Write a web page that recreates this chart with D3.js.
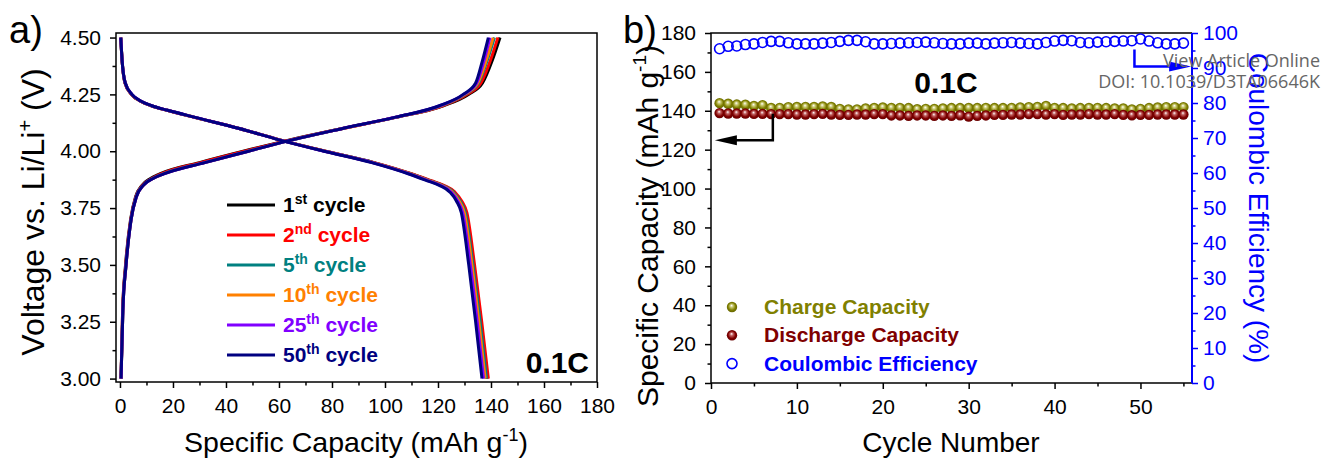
<!DOCTYPE html>
<html>
<head>
<meta charset="utf-8">
<script src="https://cdnjs.cloudflare.com/ajax/libs/d3/7.8.5/d3.min.js"></script>
<style>
  body { margin: 0; background: #fff; }
  svg { display: block; font-family: Arial, "Liberation Sans", sans-serif; }
</style>
</head>
<body>
<svg id="chart" width="1322" height="459"></svg>
<script>
// ---- panel a) voltage profiles ----
var chargeV = [3.00, 3.30, 3.50, 3.70, 3.80, 3.85, 3.88, 3.90, 3.95, 4.00, 4.05, 4.10, 4.15, 4.20, 4.25, 4.30, 4.40, 4.50];
var charge1st  = [0.4, 1.0, 2.1, 4.0, 5.9, 8.3, 11.5, 15.0, 30.0, 46.5, 64.0, 84.0, 104.5, 122.0, 131.5, 136.8, 140.5, 143.4];
var charge2nd  = [0.4, 1.0, 2.2, 4.1, 6.0, 8.5, 12.0, 15.5, 30.5, 47.0, 64.5, 84.0, 104.5, 121.8, 131.0, 136.2, 139.8, 142.6];
var charge5th  = [0.4, 1.1, 2.3, 4.2, 6.1, 8.7, 12.3, 16.2, 31.8, 48.3, 65.0, 84.0, 104.3, 121.2, 130.3, 135.3, 138.6, 141.3];
var charge10th = [0.4, 1.1, 2.3, 4.2, 6.2, 8.8, 12.5, 16.4, 32.0, 48.5, 65.0, 84.0, 104.2, 121.0, 130.0, 135.0, 138.2, 140.8];
var charge25th = [0.4, 1.1, 2.3, 4.2, 6.2, 8.8, 12.5, 16.5, 32.0, 48.5, 65.0, 84.0, 104.0, 120.7, 129.7, 134.6, 137.4, 139.6];
var charge50th = [0.4, 1.1, 2.3, 4.2, 6.2, 8.8, 12.5, 16.5, 32.0, 48.5, 65.0, 84.0, 104.0, 120.5, 129.5, 134.2, 136.8, 139.0];

var dischargeV = [4.50, 4.40, 4.30, 4.25, 4.22, 4.20, 4.18, 4.15, 4.10, 4.05, 4.00, 3.95, 3.90, 3.87, 3.85, 3.82, 3.78, 3.73, 3.50, 3.25, 3.00];
var discharge1st  = [0.3, 0.8, 1.9, 4.3, 7.8, 11.8, 17.8, 27.8, 45.0, 60.3, 77.5, 95.8, 110.0, 117.2, 121.8, 126.0, 128.6, 130.5, 133.4, 136.1, 138.6];
var discharge2nd  = [0.3, 0.8, 1.9, 4.3, 7.8, 11.8, 17.8, 27.8, 45.0, 60.4, 77.6, 96.0, 110.3, 117.5, 122.2, 126.4, 129.0, 130.9, 133.8, 136.5, 139.0];
var discharge5th  = [0.3, 0.8, 2.0, 4.4, 7.9, 11.9, 17.9, 27.9, 45.0, 60.3, 77.4, 95.6, 109.8, 117.0, 121.6, 125.8, 128.4, 130.3, 133.2, 135.9, 138.3];
var discharge10th = [0.3, 0.8, 2.0, 4.4, 7.9, 11.9, 17.9, 27.9, 45.0, 60.2, 77.3, 95.4, 109.6, 116.7, 121.3, 125.4, 128.0, 129.9, 132.8, 135.4, 137.8];
var discharge25th = [0.3, 0.8, 2.0, 4.5, 8.0, 12.0, 18.0, 28.0, 45.0, 60.1, 77.1, 95.2, 109.3, 116.3, 120.9, 125.0, 127.5, 129.3, 132.2, 134.8, 137.2];
var discharge50th = [0.3, 0.8, 2.0, 4.5, 8.0, 12.0, 18.0, 28.0, 45.0, 60.0, 77.0, 95.0, 109.0, 116.0, 120.5, 124.5, 127.0, 128.8, 131.6, 134.2, 136.6];

var cycleNum = ["1", "2", "5", "10", "25", "50"];
var cycleSuffix = ["st", "nd", "th", "th", "th", "th"];
var cycleColors = ["#000000", "#ff0000", "#008080", "#ff8000", "#8000ff", "#000080"];

// ---- panel b) cycling ----
var cycles = [1,2,3,4,5,6,7,8,9,10,11,12,13,14,15,16,17,18,19,20,21,22,23,24,25,26,27,28,29,30,
  31,32,33,34,35,36,37,38,39,40,41,42,43,44,45,46,47,48,49,50,51,52,53,54,55];
var chargeCap = [143.9,143.6,143.2,143.1,142.5,142.9,141.5,141.5,141.9,142.0,142.0,142.0,142.2,142.0,141.0,140.7,140.7,141.2,141.5,141.7,
  141.5,141.5,141.4,140.8,141.0,141.0,141.2,141.4,141.4,141.5,141.4,141.5,141.4,141.4,141.5,141.7,141.9,142.0,142.5,141.5,
  141.4,141.2,141.4,141.5,141.5,141.4,141.2,141.2,140.7,141.0,141.4,141.7,141.9,141.9,141.9];
var dischargeCap = [138.8,138.6,138.6,138.6,138.4,138.4,138.3,138.3,138.3,138.1,138.1,138.3,138.4,138.1,137.9,137.9,138.1,138.1,138.3,138.3,
  137.6,137.6,137.4,137.6,137.6,137.4,137.6,137.4,137.7,137.0,137.4,137.6,137.9,137.9,138.1,138.1,138.3,138.3,138.1,138.3,
  137.9,138.1,138.1,138.3,138.1,138.1,138.3,137.9,137.7,137.9,137.9,138.1,138.1,138.1,138.1];
var coulombicEff = [95.5,96.2,96.3,96.7,96.9,97.3,97.6,97.6,97.2,96.9,96.9,96.9,97.1,97.3,97.6,97.9,97.9,97.5,96.9,96.9,
  97.0,97.1,97.2,97.3,97.4,97.2,97.0,96.9,96.9,97.1,97.1,96.9,97.1,97.2,97.3,97.1,97.0,96.9,97.3,97.7,
  97.9,97.8,97.3,97.2,97.4,97.5,97.6,97.7,97.8,98.3,97.7,97.2,96.9,96.9,97.1];
var legendB = ["Charge Capacity", "Discharge Capacity", "Coulombic Efficiency"];

var svg = d3.select("#chart");
var defs = svg.append("defs");
function sphere(id, light, base, dark) {
  var g = defs.append("radialGradient").attr("id", id)
    .attr("cx", "50%").attr("cy", "50%").attr("r", "55%").attr("fx", "45%").attr("fy", "35%");
  g.append("stop").attr("offset", "0%").attr("stop-color", "#ffffff");
  g.append("stop").attr("offset", "28%").attr("stop-color", light);
  g.append("stop").attr("offset", "65%").attr("stop-color", base);
  g.append("stop").attr("offset", "100%").attr("stop-color", dark);
}
sphere("gOlive", "#c8c870", "#808000", "#606000");
sphere("gRed", "#c06060", "#800000", "#600000");

function styleAxis(g, size, color) {
  g.select(".domain").remove();
  g.selectAll(".tick line").attr("stroke", color).attr("stroke-width", 1.5);
  g.selectAll(".tick text").attr("fill", color).style("font-size", size + "px")
    .style("font-family", "Arial, 'Liberation Sans', sans-serif");
}

// ================= panel a =================
var xA = d3.scaleLinear().domain([-1.5, 180]).range([116, 597]);
var yA = d3.scaleLinear().domain([2.985, 4.52]).range([382, 33]);

var ga = svg.append("g");
ga.append("g").attr("transform", "translate(0,382)")
  .call(d3.axisBottom(xA).tickValues(d3.range(0, 181, 20)).tickSize(6).tickPadding(10))
  .call(styleAxis, 21, "#000");
ga.append("g").attr("transform", "translate(0,382)")
  .call(d3.axisBottom(xA).tickValues(d3.range(10, 180, 20)).tickSize(3.5).tickFormat(""))
  .call(styleAxis, 21, "#000");
ga.append("g").attr("transform", "translate(116,0)")
  .call(d3.axisLeft(yA).tickValues([3.00, 3.25, 3.50, 3.75, 4.00, 4.25, 4.50]).tickFormat(d3.format(".2f")).tickSize(6).tickPadding(9))
  .call(styleAxis, 21, "#000");
ga.append("g").attr("transform", "translate(116,0)")
  .call(d3.axisLeft(yA).tickValues([3.125, 3.375, 3.625, 3.875, 4.125, 4.375]).tickSize(3.5).tickFormat(""))
  .call(styleAxis, 21, "#000");

var lineA = d3.line().x(function(d) { return xA(d[0]); }).y(function(d) { return yA(d[1]); })
  .curve(d3.curveMonotoneX);
var chargeSets = [charge1st, charge2nd, charge5th, charge10th, charge25th, charge50th];
var dischargeSets = [discharge1st, discharge2nd, discharge5th, discharge10th, discharge25th, discharge50th];
chargeSets.forEach(function(caps, i) {
  var pts = caps.map(function(c, k) { return [c, chargeV[k]]; });
  var pts2 = dischargeSets[i].map(function(c, k) { return [c, dischargeV[k]]; });
  ga.append("path").attr("d", lineA(pts2)).attr("fill", "none")
    .attr("stroke", cycleColors[i]).attr("stroke-width", 3);
  ga.append("path").attr("d", lineA(pts)).attr("fill", "none")
    .attr("stroke", cycleColors[i]).attr("stroke-width", 3);
});

ga.append("rect").attr("x", 116).attr("y", 33).attr("width", 481).attr("height", 349)
  .attr("fill", "none").attr("stroke", "#000").attr("stroke-width", 1.5);

// legend a
cycleNum.forEach(function(n, i) {
  var y = 205 + i * 30;
  ga.append("line").attr("x1", 227).attr("x2", 275).attr("y1", y).attr("y2", y)
    .attr("stroke", cycleColors[i]).attr("stroke-width", 3);
  var t = ga.append("text").attr("x", 283).attr("y", y + 7).attr("fill", cycleColors[i])
    .style("font-size", "21px").style("font-weight", "bold");
  t.append("tspan").text(n);
  t.append("tspan").attr("dy", -8).style("font-size", "14px").text(cycleSuffix[i]);
  t.append("tspan").attr("dy", 8).text(" cycle");
});
ga.append("text").attr("x", 589).attr("y", 373).attr("text-anchor", "end")
  .style("font-size", "30px").style("font-weight", "bold").text("0.1C");

// labels a
ga.append("text").attr("x", 9).attr("y", 43).style("font-size", "38px").text("a)");
var ylA = ga.append("text").attr("transform", "translate(44,212) rotate(-90)")
  .attr("text-anchor", "middle").style("font-size", "32px");
ylA.append("tspan").text("Voltage vs. Li/Li");
ylA.append("tspan").attr("dy", -12).style("font-size", "20px").text("+");
ylA.append("tspan").attr("dy", 12).text(" (V)");
var xlA = ga.append("text").attr("x", 356).attr("y", 452).attr("text-anchor", "middle")
  .style("font-size", "28.5px");
xlA.append("tspan").text("Specific Capacity (mAh g");
xlA.append("tspan").attr("dy", -11).style("font-size", "18px").text("-1");
xlA.append("tspan").attr("dy", 11).text(")");

// ================= panel b =================
var xB = d3.scaleLinear().domain([0, 56]).range([711, 1192]);
var yB = d3.scaleLinear().domain([0, 180]).range([383, 33]);
var yCE = d3.scaleLinear().domain([0, 100]).range([383, 33]);

var gb = svg.append("g");
gb.append("g").attr("transform", "translate(0,383)")
  .call(d3.axisBottom(xB).tickValues(d3.range(0, 51, 10)).tickSize(6).tickPadding(10))
  .call(styleAxis, 21, "#000");
gb.append("g").attr("transform", "translate(0,383)")
  .call(d3.axisBottom(xB).tickValues(d3.range(5, 56, 10)).tickSize(3.5).tickFormat(""))
  .call(styleAxis, 21, "#000");
gb.append("g").attr("transform", "translate(711,0)")
  .call(d3.axisLeft(yB).tickValues(d3.range(0, 181, 20)).tickSize(6).tickPadding(9))
  .call(styleAxis, 21, "#000");
gb.append("g").attr("transform", "translate(711,0)")
  .call(d3.axisLeft(yB).tickValues(d3.range(10, 180, 20)).tickSize(3.5).tickFormat(""))
  .call(styleAxis, 21, "#000");
gb.append("g").attr("transform", "translate(1192,0)")
  .call(d3.axisRight(yCE).tickValues(d3.range(0, 101, 10)).tickSize(6).tickPadding(5))
  .call(styleAxis, 21, "#0000ff");
gb.append("g").attr("transform", "translate(1192,0)")
  .call(d3.axisRight(yCE).tickValues(d3.range(5, 100, 10)).tickSize(3.5).tickFormat(""))
  .call(styleAxis, 21, "#0000ff");

// frame
gb.append("path").attr("d", "M1192,33H711V383H1192")
  .attr("fill", "none").attr("stroke", "#000").attr("stroke-width", 1.5);
gb.append("line").attr("x1", 1192).attr("x2", 1192).attr("y1", 33).attr("y2", 383)
  .attr("stroke", "#0000ff").attr("stroke-width", 2);

// markers
gb.selectAll("circle.ce").data(cycles).enter().append("circle").attr("class", "ce")
  .attr("cx", function(d) { return xB(d); })
  .attr("cy", function(d, i) { return yCE(coulombicEff[i]); })
  .attr("r", 5).attr("fill", "none").attr("stroke", "#0000ff").attr("stroke-width", 1.6);
gb.selectAll("circle.ch").data(cycles).enter().append("circle").attr("class", "ch")
  .attr("cx", function(d) { return xB(d); })
  .attr("cy", function(d, i) { return yB(chargeCap[i]); })
  .attr("r", 5.2).attr("fill", "url(#gOlive)");
gb.selectAll("circle.dc").data(cycles).enter().append("circle").attr("class", "dc")
  .attr("cx", function(d) { return xB(d); })
  .attr("cy", function(d, i) { return yB(dischargeCap[i]); })
  .attr("r", 5.2).attr("fill", "url(#gRed)");

// arrows
var ax = xB(7.2), ay1 = yB(138.5), ay2 = yB(124.8), tipL = xB(0.45);
gb.append("path").attr("d", "M" + ax + "," + ay1 + "V" + ay2 + "H" + (tipL + 18))
  .attr("fill", "none").attr("stroke", "#000").attr("stroke-width", 2.5);
gb.append("path").attr("d", "M" + tipL + "," + ay2 + "L" + (tipL + 22) + "," + (ay2 - 5) + "L" + (tipL + 22) + "," + (ay2 + 5) + "Z")
  .attr("fill", "#000");
var bx = xB(49.3), by1 = yCE(95.3), by2 = yCE(90.4), tipR = xB(55.9);
gb.append("path").attr("d", "M" + bx + "," + by1 + "V" + by2 + "H" + (tipR - 18))
  .attr("fill", "none").attr("stroke", "#0000ff").attr("stroke-width", 2.5);
gb.append("path").attr("d", "M" + tipR + "," + by2 + "L" + (tipR - 22) + "," + (by2 - 5) + "L" + (tipR - 22) + "," + (by2 + 5) + "Z")
  .attr("fill", "#0000ff");

gb.append("text").attr("x", 946).attr("y", 93).attr("text-anchor", "middle")
  .style("font-size", "30px").style("font-weight", "bold").text("0.1C");

// legend b
var legColors = ["#808000", "#800000", "#0000ff"];
legendB.forEach(function(name, i) {
  var y = 307 + i * 28.3;
  if (i < 2) {
    gb.append("circle").attr("cx", 732).attr("cy", y).attr("r", 5.2)
      .attr("fill", i === 0 ? "url(#gOlive)" : "url(#gRed)");
  } else {
    gb.append("circle").attr("cx", 732).attr("cy", y).attr("r", 5)
      .attr("fill", "none").attr("stroke", "#0000ff").attr("stroke-width", 1.6);
  }
  gb.append("text").attr("x", 764).attr("y", y + 7).attr("fill", legColors[i])
    .style("font-size", "21px").style("font-weight", "bold").text(name);
});

// labels b
gb.append("text").attr("x", 623).attr("y", 43).style("font-size", "38px").text("b)");
var ylB = gb.append("text").attr("transform", "translate(658,226) rotate(-90)")
  .attr("text-anchor", "middle").style("font-size", "30px");
ylB.append("tspan").text("Specific Capacity (mAh g");
ylB.append("tspan").attr("dy", -12).style("font-size", "19px").text("-1");
ylB.append("tspan").attr("dy", 12).text(")");
gb.append("text").attr("x", 951).attr("y", 452).attr("text-anchor", "middle")
  .style("font-size", "28px").text("Cycle Number");
gb.append("text").attr("transform", "translate(1249,208) rotate(90)")
  .attr("text-anchor", "middle").attr("fill", "#0000ff").style("font-size", "28px")
  .text("Coulombic Efficiency (%)");

// watermark
svg.append("text").attr("x", 1320).attr("y", 67).attr("text-anchor", "end")
  .attr("fill", "#666").style("font-family", "'Open Sans', sans-serif").style("font-size", "18px")
  .text("View Article Online");
svg.append("text").attr("x", 1320).attr("y", 88).attr("text-anchor", "end")
  .attr("fill", "#666").style("font-family", "'Open Sans', sans-serif").style("font-size", "18px")
  .text("DOI: 10.1039/D3TA06646K");
</script>
</body>
</html>
